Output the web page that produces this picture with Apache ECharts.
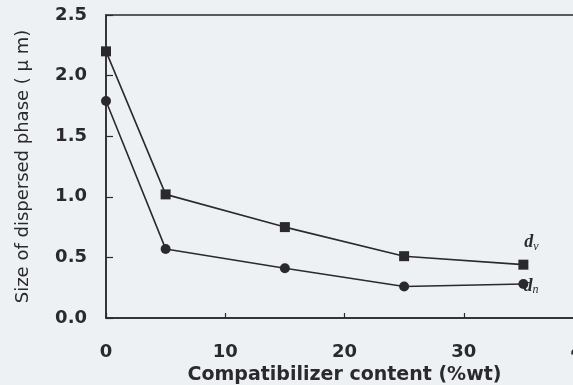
<!DOCTYPE html>
<html><head><meta charset="utf-8">
<script src="https://cdn.jsdelivr.net/npm/echarts@6/dist/echarts.min.js"></script>
<style>html,body{margin:0;padding:0;background:#eef1f4;}#c{width:573px;height:385px;}</style>
</head><body><div id="c"></div>
<script>
const content = [0, 5, 15, 25, 35];
const dv = [2.20, 1.02, 0.75, 0.51, 0.44];
const dn = [1.79, 0.57, 0.41, 0.26, 0.28];
const xTicks = [0, 10, 20, 30, 40];
const yTicks = ['0.0','0.5','1.0','1.5','2.0','2.5'];

const chart = echarts.init(document.getElementById('c'), null, {renderer:'canvas'});
const ink = '#2a2a2e';
const lab = {
  show: true,
  formatter: p => p.dataIndex === content.length - 1 ? '{d|d}{s|' + p.seriesName + '}' : '',
  rich: {
    d: {fontFamily: 'Liberation Serif', fontStyle: 'italic', fontWeight: 'bold', fontSize: 18, color: ink},
    s: {fontFamily: 'Liberation Serif', fontStyle: 'italic', fontSize: 12, color: ink, padding: [8,0,0,0]}
  }
};
chart.setOption({
  backgroundColor: '#eef1f4',
  animation: false,
  grid: {left: 106, top: 15, right: -10, bottom: 67, show: true, borderColor: ink, borderWidth: 1.5,
         backgroundColor: 'transparent', containLabel: false, outerBoundsMode: 'none'},
  xAxis: {
    type: 'value', min: 0, max: 40, interval: 10,
    name: 'Compatibilizer content (%wt)', nameLocation: 'middle', nameGap: 39,
    nameTextStyle: {fontFamily: 'DejaVu Sans', fontWeight: 'bold', fontSize: 19, color: ink},
    axisLine: {lineStyle: {color: ink, width: 1.5}},
    axisTick: {inside: true, length: 5, lineStyle: {color: ink, width: 1.2}},
    axisLabel: {margin: 25, fontFamily: 'DejaVu Sans', fontWeight: 'bold', fontSize: 18, color: ink,
      hideOverlap: false, showMaxLabel: true,
      formatter: v => xTicks.includes(v) ? String(v) : ''},
    splitLine: {show: false}
  },
  yAxis: {
    type: 'value', min: 0, max: 2.5, interval: 0.5,
    name: 'Size of dispersed phase ( μ m)', nameLocation: 'middle', nameGap: 74,
    nameTextStyle: {fontFamily: 'DejaVu Sans', fontSize: 18, color: ink},
    axisLine: {lineStyle: {color: ink, width: 1.5}},
    axisTick: {inside: true, length: 7, lineStyle: {color: ink, width: 1.2}},
    axisLabel: {margin: 19, fontFamily: 'DejaVu Sans', fontWeight: 'bold', fontSize: 18, color: ink,
      formatter: (v, i) => yTicks[i]},
    splitLine: {show: false}
  },
  series: [
    {name: 'v', type: 'line', data: content.map((x, i) => [x, dv[i]]), symbol: 'rect', symbolSize: 10,
     itemStyle: {color: ink}, lineStyle: {color: ink, width: 1.6},
     label: Object.assign({}, lab, {position: 'top', offset: [8, -2]})},
    {name: 'n', type: 'line', data: content.map((x, i) => [x, dn[i]]), symbol: 'circle', symbolSize: 10,
     itemStyle: {color: ink}, lineStyle: {color: ink, width: 1.6},
     label: Object.assign({}, lab, {position: 'right', offset: [-10, 2]})}
  ]
});
</script></body></html>
